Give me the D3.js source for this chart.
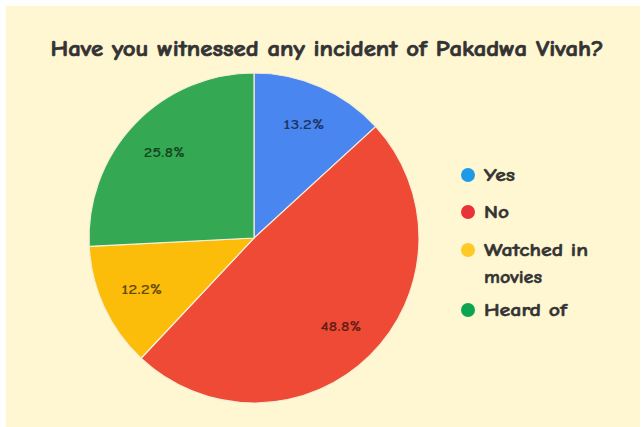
<!DOCTYPE html>
<html><head><meta charset="utf-8">
<script src="https://cdn.jsdelivr.net/npm/d3@7"></script>
<style>body{margin:0;background:#fff}</style>
</head><body>
<svg id="c" width="642" height="427"></svg>
<script>
const categories = ["Yes", "No", "Watched in movies", "Heard of"];
const values = [13.2, 48.8, 12.2, 25.8];
const sliceColors = ["#4A86F0", "#EE4A36", "#FBBC0A", "#35A853"];
const legendColors = ["#1E9BE8", "#E8333A", "#FFC926", "#0DA552"];
const legendLines = [["Yes"], ["No"], ["Watched in", "movies"], ["Heard of"]];
const title = "Have you witnessed any incident of Pakadwa Vivah?";

const font = "'Comic Sans MS','Comic Neue','DejaVu Sans',sans-serif";
const svg = d3.select("#c");
svg.append("rect").attr("x", 6).attr("y", 6).attr("width", 634).attr("height", 421).attr("fill", "#FFF6D2");

svg.append("text").attr("x", 327).attr("y", 56).attr("text-anchor", "middle")
  .attr("font-family", font).attr("font-weight", "bold").attr("font-size", 22)
  .attr("fill", "#333").attr("stroke", "#333").attr("stroke-width", 0.7)
  .attr("textLength", 553).attr("lengthAdjust", "spacingAndGlyphs")
  .text(title);

const cx = 254, cy = 238, R = 165;
const pie = d3.pie().sort(null).value(d => d);
const arcs = pie(values);
const arc = d3.arc().innerRadius(0).outerRadius(R);
const labelArc = d3.arc().innerRadius(R * 0.75).outerRadius(R * 0.75);
const g = svg.append("g").attr("transform", `translate(${cx},${cy})`);
g.selectAll("path").data(arcs).join("path")
  .attr("d", arc).attr("fill", (d, i) => sliceColors[i])
  .attr("stroke", "#F4EFD6").attr("stroke-width", 1.2);
g.selectAll("text").data(arcs).join("text")
  .attr("transform", d => `translate(${labelArc.centroid(d)})`)
  .attr("text-anchor", "middle").attr("dominant-baseline", "central")
  .attr("font-family", font).attr("font-size", 13).attr("font-weight", "bold")
  .attr("fill", "#000").attr("fill-opacity", 0.6)
  .attr("textLength", 41).attr("lengthAdjust", "spacingAndGlyphs")
  .text(d => d.data.toFixed(1) + "%");

const legY = [175, 212, 250, 310];
const legW = {"Yes": 31, "No": 25, "Watched in": 104, "movies": 58, "Heard of": 83};
const lg = svg.append("g");
categories.forEach((c, i) => {
  lg.append("circle").attr("cx", 468).attr("cy", legY[i]).attr("r", 7).attr("fill", legendColors[i]);
  legendLines[i].forEach((t, j) => {
    lg.append("text").attr("x", 484).attr("y", legY[i] + j * 27).attr("dominant-baseline", "central")
      .attr("font-family", font).attr("font-size", 18).attr("font-weight", "bold").attr("fill", "#333")
      .attr("stroke", "#333").attr("stroke-width", 0.5)
      .attr("textLength", legW[t]).attr("lengthAdjust", "spacingAndGlyphs").text(t);
  });
});
</script>
</body></html>
